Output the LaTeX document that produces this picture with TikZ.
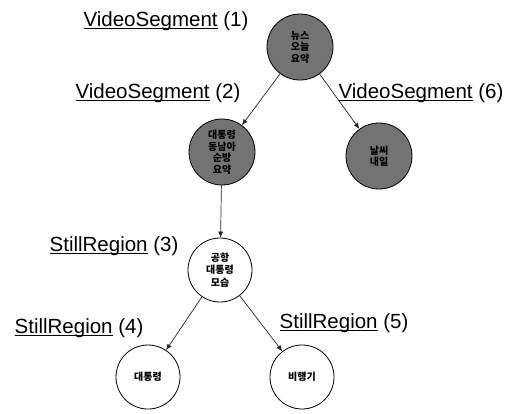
\documentclass[tikz,border=0pt]{standalone}
\usepackage{fontspec}
\setmainfont{Liberation Sans}
\newfontfamily\kr{Noto Sans CJK KR}
\usetikzlibrary{arrows.meta}
\newcommand\myul[1]{\setbox0\hbox{#1}\rlap{\rule[-2.2pt]{\wd0}{0.9pt}}\box0\relax}
\begin{document}
\begin{tikzpicture}[x=1pt,y=-1pt,
  darknode/.style={circle,draw=black,line width=0.8pt,fill=black!55,minimum size=66pt,inner sep=0pt,align=center,font=\kr\bfseries\fontsize{10}{11.5}\selectfont},
  lightnode/.style={circle,draw=black,line width=0.8pt,fill=white,minimum size=64pt,inner sep=0pt,align=center,font=\kr\bfseries\fontsize{10}{12.5}\selectfont},
  lbl/.style={font=\fontsize{20.5}{24}\selectfont,inner sep=0pt},
  conn/.style={draw=black!85,line width=0.7pt,-{Latex[length=6pt,width=5pt]}}]
\useasboundingbox (0,0) rectangle (521,413);
\node[darknode] (n1) at (300,47) {뉴스\\오늘\\요약};
\node[darknode] (n2) at (222,152) {대통령\\동남아\\순방\\요약};
\node[darknode] (n6) at (379,156) {날씨\\내일};
\node[lightnode] (n3) at (220,270) {공항\\대통령\\모습};
\node[lightnode] (n4) at (148,377) {대통령};
\node[lightnode] (n5) at (302,377) {비행기};
\node[lbl] (l1) at (166,21) {\myul{VideoSegment} (1)};
\node[lbl] (l2) at (158,93) {\myul{VideoSegment} (2)};
\node[lbl] (l6) at (421,93) {\myul{VideoSegment} (6)};
\node[lbl] (l3) at (114,246) {\myul{StillRegion} (3)};
\node[lbl] (l4) at (79,328) {\myul{StillRegion} (4)};
\node[lbl] (l5) at (344,323) {\myul{StillRegion} (5)};
\draw[conn] (n1) -- (n2);
\draw[conn] (n1) -- (n6);
\draw[conn] (n2) -- (n3);
\draw[conn] (n3) -- (n4);
\draw[conn] (n3) -- (n5);
\end{tikzpicture}
\end{document}
